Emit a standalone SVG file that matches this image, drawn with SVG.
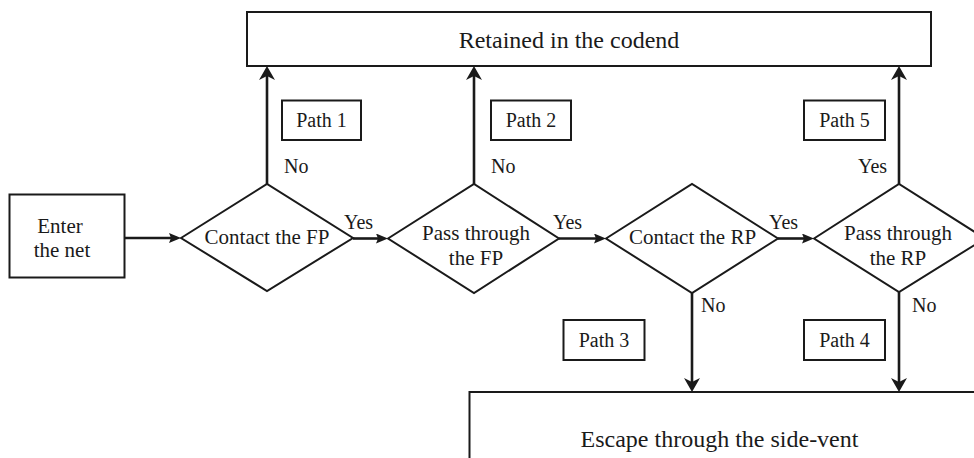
<svg xmlns="http://www.w3.org/2000/svg" width="974" height="458" viewBox="0 0 974 458">
<style>
.box{fill:#fff;stroke:#1a1a1a;stroke-width:2}
.dia{fill:#fff;stroke:#1a1a1a;stroke-width:2}
.lbl{fill:#fff;stroke:#1a1a1a;stroke-width:2}
text{font-family:"Liberation Serif","Times New Roman",serif;fill:#1a1a1a}
.big{font-size:24px}
.mid{font-size:21px}
.sm{font-size:20px}
.c{text-anchor:middle}
.con{stroke:#1a1a1a;stroke-width:2.6;fill:none}
</style>
<defs>
<marker id="big" markerUnits="userSpaceOnUse" markerWidth="14" markerHeight="16" refX="9" refY="8" orient="auto" viewBox="0 0 14 16">
<path d="M14,8 L0,0 L4,8 L0,16 Z" fill="#1a1a1a"/>
</marker>
<marker id="small" markerUnits="userSpaceOnUse" markerWidth="12" markerHeight="10" refX="8" refY="5" orient="auto" viewBox="0 0 12 10">
<path d="M12,5 L0,0 L2,5 L0,10 Z" fill="#1a1a1a"/>
</marker>
</defs>
<rect x="0" y="0" width="974" height="458" fill="#fff"/>
<g id="connectors">
<line class="con" x1="125" y1="238" x2="177" y2="238" marker-end="url(#small)"/>
<line class="con" x1="353" y1="238.5" x2="384" y2="238.5" marker-end="url(#small)"/>
<line class="con" x1="559" y1="238.5" x2="602" y2="238.5" marker-end="url(#small)"/>
<line class="con" x1="778" y1="238.5" x2="810" y2="238.5" marker-end="url(#small)"/>
<line class="con" x1="267" y1="184" x2="267" y2="71" marker-end="url(#big)"/>
<line class="con" x1="474" y1="184" x2="474" y2="71" marker-end="url(#big)"/>
<line class="con" x1="899" y1="184" x2="899" y2="71" marker-end="url(#big)"/>
<line class="con" x1="692" y1="292" x2="692" y2="387" marker-end="url(#big)"/>
<line class="con" x1="899" y1="292" x2="899" y2="387" marker-end="url(#big)"/>
<text class="sm" x="284" y="173">No</text>
<text class="sm" x="491" y="173">No</text>
<text class="sm" x="858" y="173">Yes</text>
<text class="sm" x="344" y="229">Yes</text>
<text class="sm" x="553" y="229">Yes</text>
<text class="sm" x="769" y="229">Yes</text>
<text class="sm" x="701" y="312">No</text>
<text class="sm" x="912" y="312">No</text>
</g>
<g id="retained">
<rect class="box" x="247" y="12" width="684" height="54"/>
<text class="big c" x="569" y="48">Retained in the codend</text>
</g>
<g id="escape">
<rect class="box" x="469.5" y="392" width="540" height="100"/>
<text class="big c" x="719.5" y="446.5">Escape through the side-vent</text>
</g>
<g id="enter">
<rect class="box" x="9.5" y="194.5" width="115" height="83"/>
<text class="mid c" x="60" y="233">Enter</text>
<text class="mid c" x="62" y="257">the net</text>
</g>
<g id="contactFP">
<polygon class="dia" points="181,238 267,184 353,238 267,291"/>
<text class="mid c" x="267" y="244">Contact the FP</text>
</g>
<g id="passFP">
<polygon class="dia" points="388,238.5 474,184 559,238.5 474,293"/>
<text class="mid c" x="476" y="240">Pass through</text>
<text class="mid c" x="476" y="265">the FP</text>
</g>
<g id="contactRP">
<polygon class="dia" points="606,238.5 692,184 778,238.5 692,293"/>
<text class="mid c" x="692.5" y="244">Contact the RP</text>
</g>
<g id="passRP">
<polygon class="dia" points="814,238.5 899,184 985,238.5 899,292"/>
<text class="mid c" x="898" y="240">Pass through</text>
<text class="mid c" x="898" y="265">the RP</text>
</g>
<g id="path1"><rect class="lbl" x="282" y="100.5" width="79" height="39.5"/><text class="sm c" x="321.5" y="127">Path 1</text></g>
<g id="path2"><rect class="lbl" x="491" y="100.5" width="80" height="39.5"/><text class="sm c" x="531" y="127">Path 2</text></g>
<g id="path5"><rect class="lbl" x="804" y="100.5" width="81" height="39.5"/><text class="sm c" x="844.5" y="127">Path 5</text></g>
<g id="path3"><rect class="lbl" x="563.5" y="320" width="81" height="40"/><text class="sm c" x="604" y="347">Path 3</text></g>
<g id="path4"><rect class="lbl" x="804" y="320" width="81" height="40"/><text class="sm c" x="844.5" y="347">Path 4</text></g>
</svg>
